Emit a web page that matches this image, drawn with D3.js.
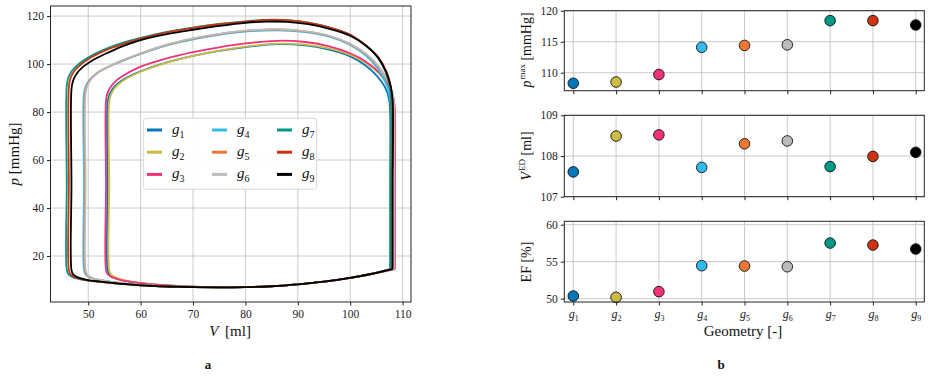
<!DOCTYPE html>
<html>
<head>
<meta charset="utf-8">
<script src="https://cdn.jsdelivr.net/npm/d3@7"></script>
<style>
  body { margin: 0; background: #fff; }
  svg { display: block; }
  svg text { font-family: "Liberation Serif", "DejaVu Serif", serif; }
  .grid line { stroke: #c4c4c4; stroke-width: 0.9; }
  .frame { fill: none; stroke: #222; stroke-width: 1; }
</style>
</head>
<body>
<svg id="chart" width="932" height="377"></svg>
<script>
"use strict";

// Geometry names and colours
const geometries = ["1", "2", "3", "4", "5", "6", "7", "8", "9"];
const colors = ["#0077BB", "#CCBB44", "#EE3377", "#33BBEE", "#EE7733", "#BBBBBB", "#009988", "#CC3311", "#000000"];

// Scalar results per geometry (panel b)
const pMax = [108.3, 108.5, 109.7, 114.1, 114.4, 114.5, 118.4, 118.4, 117.7];
const vED = [107.61, 108.49, 108.52, 107.72, 108.30, 108.37, 107.74, 107.99, 108.09];
const ef = [50.36, 50.18, 50.95, 54.46, 54.41, 54.32, 57.52, 57.25, 56.71];

// Pressure-volume loops, [V ml, p mmHg]
const loopG1 = [[107.61,14.5],[107.61,50],[107.61,80],[107.4,85.5],[106.6,90.5],[105,95.3],[102.8,99.6],[100,103.2],[96,106],[91,107.9],[86,108.3],[80,107.1],[75,105.5],[70,103.4],[65,100.7],[60,97],[57.2,94.2],[55.7,92],[54.6,89.5],[54,87],[53.7,84],[53.7,50],[53.7,14.2],[54,12.5],[54.8,11.2],[56.3,10.1],[60,8.7],[65,7.7],[70,7.2],[75,6.95],[80,7],[85,7.4],[90,8.2],[95,9.3],[100,10.9],[104,12.5],[107.61,14.5]];
const loopG2 = [[108.49,14.5],[108.49,50],[108.49,80],[108.2,86],[107.2,91],[105.5,96],[103,100.4],[100,103.8],[96,106.5],[91,108.2],[86,108.5],[80,107.3],[75,105.6],[70,103.4],[65,100.6],[60,96.8],[57.5,94.2],[56,92],[54.9,89.5],[54.3,87],[54,84],[54,50],[54,14.2],[54.3,12.5],[55.1,11.2],[56.6,10.1],[60,8.8],[65,7.8],[70,7.2],[75,6.95],[80,7],[85,7.4],[90,8.2],[95,9.3],[100,10.9],[104,12.5],[108.49,14.5]];
const loopG3 = [[108.52,14.5],[108.52,50],[108.52,81],[108.2,86.5],[107.2,91.5],[105.5,96.5],[103,101],[100,104.5],[96,107.4],[91,109.3],[86,109.7],[80,108.6],[75,107],[70,105],[65,102.4],[60,98.9],[56.8,95.3],[55.3,93],[54.3,90.5],[53.7,88],[53.4,85],[53.4,50],[53.4,14.2],[53.7,12.5],[54.5,11.2],[56,10.1],[60,8.7],[65,7.7],[70,7.2],[75,6.95],[80,7],[85,7.4],[90,8.2],[95,9.3],[100,10.9],[104,12.5],[108.52,14.5]];
const loopG4 = [[107.72,14.5],[107.72,50],[107.72,83],[107.4,88],[106.6,93],[105.3,98],[103,103.5],[100,108],[96,111.4],[91,113.4],[86,114.1],[80,113.5],[75,112.2],[70,110.3],[65,107.8],[60,104.2],[56,100.8],[53.5,98.5],[51.5,96],[50.3,93.5],[49.6,91],[49.2,88],[49.2,50],[49.2,14.2],[49.5,12.3],[50.3,11],[52,10],[55,9],[60,8],[65,7.4],[70,7],[75,6.9],[80,7],[85,7.4],[90,8.2],[95,9.3],[100,10.9],[104,12.5],[107.72,14.5]];
const loopG5 = [[108.30,14.5],[108.30,50],[108.30,83],[108,88],[107.1,93],[105.7,98],[103.3,103.6],[100,108.3],[96,111.7],[91,113.7],[86,114.4],[80,113.8],[75,112.5],[70,110.6],[65,108],[60,104.4],[56,101],[53.7,98.7],[51.7,96.2],[50.5,93.7],[49.8,91.2],[49.4,88],[49.4,50],[49.4,14.2],[49.7,12.3],[50.5,11],[52.2,10],[55,9],[60,8],[65,7.4],[70,7],[75,6.9],[80,7],[85,7.4],[90,8.2],[95,9.3],[100,10.9],[104,12.5],[108.30,14.5]];
const loopG6 = [[108.37,14.5],[108.37,50],[108.37,83],[108.1,88],[107.2,93],[105.8,98],[103.4,103.6],[100,108.4],[96,111.8],[91,113.8],[86,114.5],[80,113.9],[75,112.6],[70,110.7],[65,108.1],[60,104.5],[56,101.1],[53.8,98.8],[51.8,96.3],[50.6,93.8],[49.9,91.2],[49.5,88],[49.5,50],[49.5,14.2],[49.8,12.3],[50.6,11],[52.3,10],[55,9],[60,8],[65,7.4],[70,7],[75,6.9],[80,7],[85,7.4],[90,8.2],[95,9.3],[100,10.9],[104,12.5],[108.37,14.5]];
const loopG7 = [[107.74,14.5],[107.74,50],[107.74,85],[107.5,91],[106.7,97],[105.2,103],[103,107.8],[100,112.2],[96,115.3],[92,117.3],[88,118.3],[84,118.4],[80,117.8],[75,116.7],[70,115.2],[65,113.4],[60,110.9],[56.5,108.8],[53,106],[50.2,103],[48.2,100],[46.9,97.2],[46.2,94.3],[45.9,91],[45.9,50],[45.9,14.2],[46.2,12.4],[47,11.2],[48.5,10.3],[51,9.5],[55,8.6],[60,7.8],[65,7.3],[70,7],[75,6.9],[80,7],[85,7.4],[90,8.2],[95,9.3],[100,10.9],[104,12.5],[107.74,14.5]];
const loopG8 = [[107.99,14.5],[107.99,50],[107.99,85],[107.7,91],[106.9,97],[105.3,103],[103,107.8],[100,112.2],[96,115.3],[92,117.3],[88,118.3],[84,118.4],[80,117.7],[75,116.6],[70,115.1],[65,113.2],[60,110.6],[57,108.6],[53.5,105.9],[50.6,102.8],[48.6,99.8],[47.3,97],[46.6,94],[46.3,90.5],[46.3,50],[46.3,14.2],[46.6,12.4],[47.4,11.2],[48.9,10.3],[51,9.5],[55,8.6],[60,7.8],[65,7.3],[70,7],[75,6.9],[80,7],[85,7.4],[90,8.2],[95,9.3],[100,10.9],[104,12.5],[107.99,14.5]];
const loopG9 = [[108.09,14.5],[108.09,50],[108.09,85],[107.7,91],[106.8,97],[105.2,103],[103,107.6],[100,111.8],[96,114.7],[92,116.6],[88,117.6],[84,117.7],[80,117.2],[75,115.9],[70,114.3],[65,112.5],[60,110],[57,107.8],[54,105],[51,101.8],[49,98.8],[47.8,96],[47.1,93],[46.8,89.5],[46.8,50],[46.8,14.2],[47.1,12.4],[47.9,11.2],[49.3,10.3],[51.5,9.5],[55,8.7],[60,7.8],[65,7.3],[70,7],[75,6.9],[80,7],[85,7.4],[90,8.2],[95,9.3],[100,10.9],[104,12.5],[108.09,14.5]];
const loops = [loopG1, loopG2, loopG3, loopG4, loopG5, loopG6, loopG7, loopG8, loopG9];

// Tick values
const vTicks = [50, 60, 70, 80, 90, 100, 110];
const pTicks = [20, 40, 60, 80, 100, 120];
const pMaxTicks = [110, 115, 120];
const vEDTicks = [107, 108, 109];
const efTicks = [50, 55, 60];

const svg = d3.select("#chart");
const SERIF = "Liberation Serif, DejaVu Serif, serif";
const TICK_FS = 11.5, LABEL_FS = 15;

// small helper: math-style label "g" + subscript
function gLabel(sel, idx, size, subSize) {
  sel.append("tspan").attr("font-style", "italic").attr("font-size", size).text("g");
  sel.append("tspan").attr("font-size", subSize).attr("dy", size * 0.28).text(idx);
}

function drawAxisFrame(g, x0, x1, y0, y1) {
  g.append("rect").attr("class", "frame")
    .attr("x", x0).attr("y", y1).attr("width", x1 - x0).attr("height", y0 - y1);
}

function styleAxis(axisG) {
  axisG.attr("font-family", SERIF).attr("font-size", TICK_FS);
  axisG.select(".domain").remove();
  axisG.selectAll(".tick line").attr("stroke", "#222");
  axisG.selectAll(".tick text").attr("fill", "#222");
}

// ---------- panel a: PV loops ----------
const xA = d3.scaleLinear().domain([42.8, 111.6]).range([50.5, 411]);
const yA = d3.scaleLinear().domain([0.83, 124.2]).range([302, 6]);

const panelA = svg.append("g");
const gridA = panelA.append("g").attr("class", "grid");
gridA.selectAll(".vx").data(vTicks).join("line")
  .attr("x1", d => xA(d)).attr("x2", d => xA(d)).attr("y1", yA.range()[0]).attr("y2", yA.range()[1]);
gridA.selectAll(".hy").data(pTicks).join("line")
  .attr("x1", xA.range()[0]).attr("x2", xA.range()[1]).attr("y1", d => yA(d)).attr("y2", d => yA(d));

const line = d3.line().x(d => xA(d[0])).y(d => yA(d[1])).curve(d3.curveCatmullRom.alpha(0.5));
panelA.append("g").selectAll("path").data(loops).join("path")
  .attr("d", line)
  .attr("fill", "none")
  .attr("stroke", (d, i) => colors[i])
  .attr("stroke-width", 1.8)
  .attr("stroke-linejoin", "round");

drawAxisFrame(panelA, 50.5, 411, 302, 6);
styleAxis(panelA.append("g").attr("transform", "translate(0,302)")
  .call(d3.axisBottom(xA).tickValues(vTicks).tickSize(3.5).tickPadding(4)));
styleAxis(panelA.append("g").attr("transform", "translate(50.5,0)")
  .call(d3.axisLeft(yA).tickValues(pTicks).tickSize(3.5).tickPadding(3)));

// axis labels
const xLabA = panelA.append("text").attr("x", 230).attr("y", 336).attr("text-anchor", "middle")
  .attr("font-size", LABEL_FS).attr("fill", "#111");
xLabA.append("tspan").attr("font-style", "italic").text("V");
xLabA.append("tspan").text("\u2009 [ml]");
const yLabA = panelA.append("text").attr("transform", "translate(19,154) rotate(-90)")
  .attr("text-anchor", "middle").attr("font-size", LABEL_FS).attr("fill", "#111");
yLabA.append("tspan").attr("font-style", "italic").text("p");
yLabA.append("tspan").text(" [mmHg]");

// legend
const legend = panelA.append("g");
legend.append("rect").attr("x", 143.3).attr("y", 118.3).attr("width", 173.4).attr("height", 71)
  .attr("rx", 3).attr("fill", "#fff").attr("fill-opacity", 0.9)
  .attr("stroke", "#d8d8d8").attr("stroke-width", 1);
geometries.forEach((gName, i) => {
  const col = Math.floor(i / 3), row = i % 3;
  const lx = 147 + col * 65, ly = 130 + row * 22.2;
  legend.append("line").attr("x1", lx).attr("x2", lx + 15).attr("y1", ly).attr("y2", ly)
    .attr("stroke", colors[i]).attr("stroke-width", 3);
  const t = legend.append("text").attr("x", lx + 25).attr("y", ly + 3.5).attr("fill", "#111");
  gLabel(t, gName, 15, 10);
});

svg.append("text").attr("x", 208).attr("y", 369).attr("text-anchor", "middle")
  .attr("font-size", 13).attr("font-weight", "bold").attr("fill", "#111").text("a");

// ---------- panel b: scalar results ----------
const xB = d3.scaleLinear().domain([0.79, 9.2]).range([564.3, 924.3]);
const idx = geometries.map((d, i) => i + 1);

const panels = [
  { values: pMax, ticks: pMaxTicks, domain: [107.1, 120], range: [90.7, 10.7], label: ["p", "max", " [mmHg]"], ly: 50 },
  { values: vED, ticks: vEDTicks, domain: [107, 109], range: [196.7, 115.3], label: ["V", "ED", " [ml]"], ly: 156 },
  { values: ef, ticks: efTicks, domain: [49.55, 60.46], range: [302, 221.3], label: [null, null, "EF [%]"], ly: 262 }
];

panels.forEach((p, pi) => {
  const y = d3.scaleLinear().domain(p.domain).range(p.range);
  const g = svg.append("g");
  const grid = g.append("g").attr("class", "grid");
  grid.selectAll(".vx").data(idx).join("line")
    .attr("x1", d => xB(d)).attr("x2", d => xB(d)).attr("y1", p.range[0]).attr("y2", p.range[1]);
  grid.selectAll(".hy").data(p.ticks).join("line")
    .attr("x1", xB.range()[0]).attr("x2", xB.range()[1]).attr("y1", d => y(d)).attr("y2", d => y(d));

  g.append("g").selectAll("circle").data(p.values).join("circle")
    .attr("cx", (d, i) => xB(i + 1)).attr("cy", d => y(d)).attr("r", 5.3)
    .attr("fill", (d, i) => colors[i]).attr("stroke", "#111").attr("stroke-width", 0.9);

  drawAxisFrame(g, xB.range()[0], xB.range()[1], p.range[0], p.range[1]);
  const xAxis = g.append("g").attr("transform", `translate(0,${p.range[0]})`)
    .call(d3.axisBottom(xB).tickValues(idx).tickSize(3.5).tickPadding(4).tickFormat(() => ""));
  styleAxis(xAxis);
  if (pi === 2) {
    xAxis.selectAll(".tick text").each(function (d) {
      const t = d3.select(this).attr("dy", null).attr("y", 16);
      gLabel(t, String(d), 12, 8);
    });
  }
  styleAxis(g.append("g").attr("transform", `translate(${xB.range()[0]},0)`)
    .call(d3.axisLeft(y).tickValues(p.ticks).tickSize(3.5).tickPadding(3).tickFormat(d3.format("d"))));

  const lab = g.append("text").attr("transform", `translate(531,${p.ly}) rotate(-90)`)
    .attr("text-anchor", "middle").attr("font-size", 14).attr("fill", "#111");
  if (p.label[0]) {
    lab.append("tspan").attr("font-style", "italic").text(p.label[0]);
    lab.append("tspan").attr("font-size", 9).attr("dx", 1).attr("dy", -6).text(p.label[1]);
    lab.append("tspan").attr("dy", 6).text(p.label[2]);
  } else {
    lab.text(p.label[2]);
  }
});

svg.append("text").attr("x", 743).attr("y", 336).attr("text-anchor", "middle")
  .attr("font-size", LABEL_FS).attr("fill", "#111").text("Geometry [-]");
svg.append("text").attr("x", 721).attr("y", 369).attr("text-anchor", "middle")
  .attr("font-size", 13).attr("font-weight", "bold").attr("fill", "#111").text("b");
</script>
</body>
</html>
